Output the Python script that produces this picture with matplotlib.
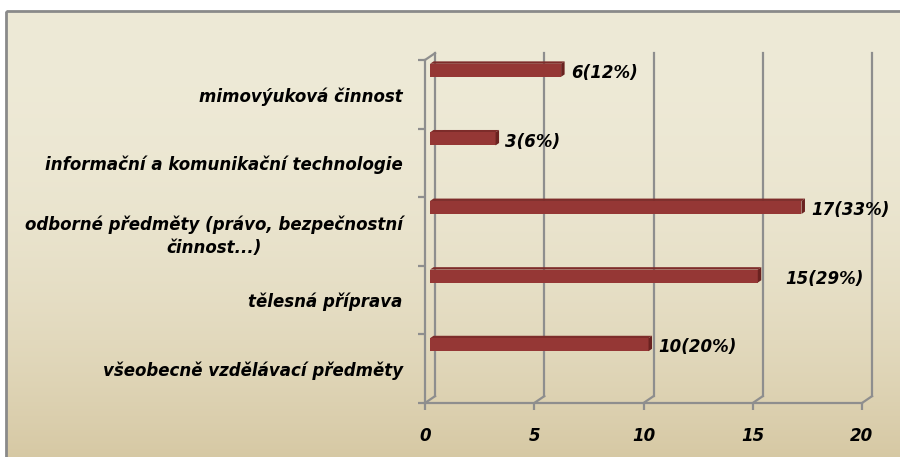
import numpy as np
import matplotlib.pyplot as plt
import matplotlib.transforms as mtransforms
from matplotlib.patches import Polygon, Rectangle

# data, top to bottom as in the chart
categories = [
    "mimovýuková činnost",
    "informační a komunikační technologie",
    "odborné předměty (právo, bezpečnostní\nčinnost...)",
    "tělesná příprava",
    "všeobecně vzdělávací předměty",
]
counts = [6, 3, 17, 15, 10]
percents = [12, 6, 33, 29, 20]
xticks = [0, 5, 10, 15, 20]

plt.rcParams['font.family'] = ['DejaVu Sans']

W, H = 900, 457
fig = plt.figure(figsize=(W / 100, H / 100), dpi=100)
fig.patch.set_facecolor("white")

# background panel with vertical gradient
bg = fig.add_axes([0, 0, 1, 1])
bg.set_xlim(0, W)
bg.set_ylim(H, 0)
bg.axis("off")
top_c = np.array([238, 234, 215]) / 255
bot_c = np.array([214, 200, 163]) / 255
t = np.linspace(0, 1, 256) ** 2.2
grad = top_c[None, :] * (1 - t[:, None]) + bot_c[None, :] * t[:, None]
bg.imshow(grad[:, None, :], extent=[6, W + 5, H + 5, 11], aspect="auto", zorder=0)
bg.add_patch(Rectangle((6, 11), W, H, fill=False, edgecolor="#8a8a8a", lw=2, zorder=1))

# main axes = front plane of the 3d frame
ax = fig.add_axes([425 / W, 54 / H, 437 / W, 343 / H])
ax.set_facecolor("none")
ax.set_xlim(0, 20)
ax.set_ylim(-0.5, 4.5)

gray = "#8e8e8e"
ddx, ddy = 0.46, 0.10  # depth offset in data units

for s in ["top", "right"]:
    ax.spines[s].set_visible(False)
for s in ["left", "bottom"]:
    ax.spines[s].set_color(gray)
    ax.spines[s].set_linewidth(1.6)

# back wall grid lines and floor diagonals
for x in xticks:
    ax.plot([x + ddx, x + ddx], [-0.5 + ddy, 4.5 + ddy], color=gray, lw=1.6, clip_on=False, zorder=1)
    ax.plot([x, x + ddx], [-0.5, -0.5 + ddy], color=gray, lw=1.6, clip_on=False, zorder=1)
ax.plot([0, ddx], [4.5, 4.5 + ddy], color=gray, lw=1.6, clip_on=False, zorder=1)

font = dict(fontsize=12, fontweight="bold", fontstyle="italic")

# ticks
ax.set_xticks(xticks)
ax.set_xticklabels([str(x) for x in xticks], **font)
ax.tick_params(axis="x", length=5, width=1.6, color=gray, pad=12)

n = len(categories)
ypos = np.arange(n)[::-1]
ax.set_yticks(np.arange(-0.5, n, 1.0))
ax.set_yticklabels([])
ax.set_yticks(np.arange(n), minor=True)
ax.set_yticklabels(categories[::-1], minor=True, ma="center", linespacing=1.35, **font)
ax.tick_params(axis="y", which="major", length=5, width=1.6, color=gray)
ax.tick_params(axis="y", which="minor", length=0, pad=16)

# bars, drawn half way into the depth
shift = mtransforms.Affine2D().translate(ddx / 2, ddy / 2) + ax.transData
bh = 0.19
e, f = 0.16, 0.035
for yc, v, p in zip(ypos, counts, percents):
    yb = yc + 0.30 - bh / 2
    yt = yb + bh
    ax.add_patch(Polygon([(0, yt), (v, yt), (v + e, yt + f), (e, yt + f)],
                         closed=True, facecolor="#7d2c2a", edgecolor="none",
                         transform=shift, clip_on=False, zorder=3))
    ax.add_patch(Rectangle((0, yb), v, bh, facecolor="#953735", edgecolor="none",
                           transform=shift, clip_on=False, zorder=3))
    ax.add_patch(Polygon([(v, yb), (v, yt), (v + e, yt + f), (v + e, yb + f)],
                         closed=True, facecolor="#6a2220", edgecolor="none",
                         transform=shift, clip_on=False, zorder=3))
    gap = 20 if v == 15 else 7
    ax.annotate(f"{v}({p}%)", xy=(v + ddx / 2, yc + 0.30 + ddy / 2), xytext=(gap, -2),
                textcoords="offset points", ha="left", va="center",
                annotation_clip=False, **font)

fig.savefig("out.png", dpi=100)
